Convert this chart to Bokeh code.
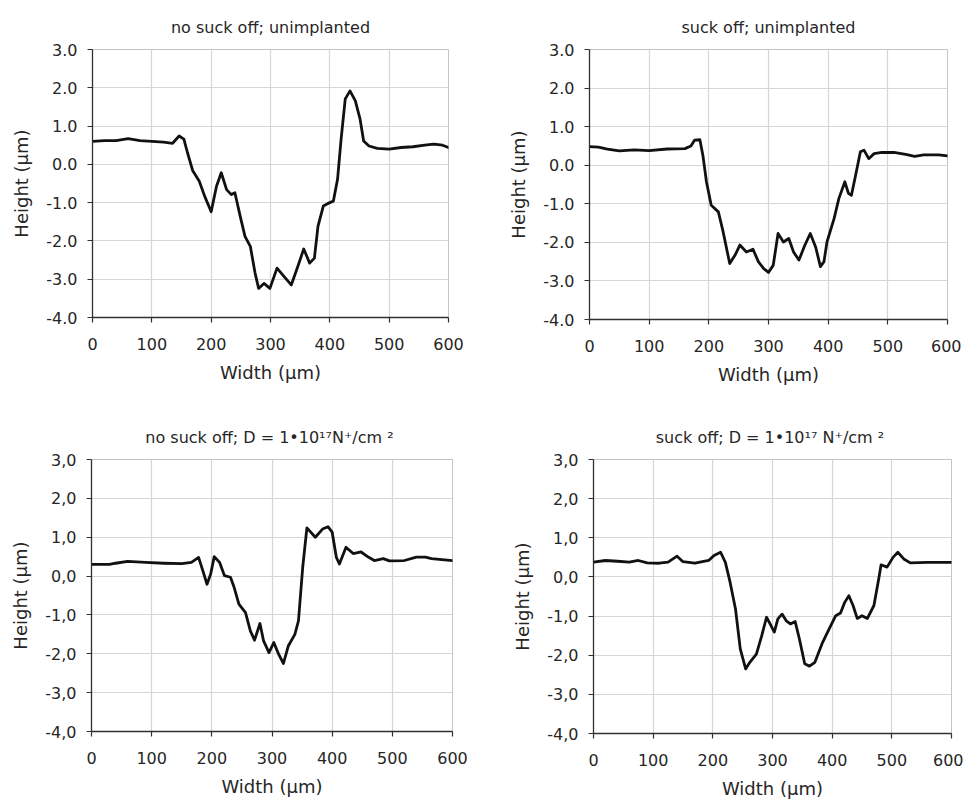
from bokeh.plotting import figure
from bokeh.layouts import row, column
from bokeh.models import FixedTicker, Range1d
from bokeh.embed import file_html
from bokeh.resources import INLINE

# ---- data ----
titles = [
    "no suck off; unimplanted",
    "suck off; unimplanted",
    "no suck off;  D = 1\u202210\u00b9\u2077N\u207a/cm \u00b2",
    "suck off;  D = 1\u202210\u00b9\u2077 N\u207a/cm \u00b2",
]

a_x = [0, 20, 40, 60, 80, 100, 120, 135, 146, 154, 160, 169, 180, 189, 200, 209, 217, 226, 234, 240,
       249, 257, 266, 274, 280, 289, 299, 311, 323, 335, 346, 356, 366, 374, 380, 389, 397, 406, 413,
       419, 426, 434, 443, 451, 457, 466, 480, 500, 520, 540, 560, 575, 590, 600]
a_y = [0.60, 0.62, 0.62, 0.67, 0.62, 0.60, 0.58, 0.55, 0.74, 0.66, 0.31, -0.17, -0.44, -0.83, -1.24,
       -0.57, -0.22, -0.66, -0.79, -0.74, -1.36, -1.88, -2.14, -2.84, -3.24, -3.11, -3.24, -2.71,
       -2.93, -3.15, -2.67, -2.21, -2.58, -2.45, -1.62, -1.09, -1.02, -0.96, -0.39, 0.66, 1.71, 1.92,
       1.66, 1.18, 0.61, 0.48, 0.42, 0.40, 0.44, 0.46, 0.50, 0.53, 0.50, 0.44]

b_x = [0, 15, 30, 50, 75, 100, 130, 160, 170, 176, 185, 190, 196, 204, 216, 224, 235, 244, 252, 263,
       274, 283, 292, 300, 308, 316, 325, 334, 342, 351, 361, 370, 379, 387, 393, 398, 410, 418, 428,
       434, 439, 446, 454, 460, 468, 477, 490, 510, 530, 545, 560, 585, 600]
b_y = [0.48, 0.47, 0.42, 0.37, 0.40, 0.38, 0.42, 0.43, 0.50, 0.65, 0.66, 0.26, -0.43, -1.04, -1.21,
       -1.73, -2.55, -2.33, -2.07, -2.25, -2.18, -2.50, -2.68, -2.78, -2.59, -1.77, -1.99, -1.90,
       -2.25, -2.46, -2.07, -1.77, -2.12, -2.63, -2.50, -1.99, -1.38, -0.86, -0.43, -0.73, -0.78,
       -0.26, 0.35, 0.39, 0.17, 0.30, 0.33, 0.33, 0.28, 0.23, 0.27, 0.27, 0.24]

c_x = [0, 30, 40, 60, 90, 120, 150, 166, 178, 185, 192, 198, 204, 213, 221, 231, 237, 245, 256, 264,
       271, 280, 286, 295, 303, 311, 319, 327, 338, 344, 351, 358, 372, 384, 393, 400, 407, 412, 423,
       435, 448, 460, 470, 485, 495, 520, 540, 555, 565, 600]
c_y = [0.30, 0.30, 0.33, 0.38, 0.35, 0.33, 0.32, 0.35, 0.48, 0.14, -0.21, 0.05, 0.50, 0.35, 0.01,
       -0.03, -0.29, -0.72, -0.94, -1.41, -1.65, -1.22, -1.67, -1.97, -1.71, -2.01, -2.25, -1.80,
       -1.50, -1.15, 0.22, 1.24, 1.00, 1.21, 1.27, 1.13, 0.48, 0.31, 0.74, 0.58, 0.62, 0.49, 0.40,
       0.45, 0.39, 0.40, 0.49, 0.49, 0.45, 0.40]

d_x = [0, 20, 40, 60, 75, 90, 110, 125, 140, 150, 170, 193, 202, 213, 221, 229, 238, 246, 255, 262,
       273, 282, 290, 296, 303, 309, 316, 323, 330, 338, 345, 354, 362, 371, 384, 395, 406, 414, 421,
       428, 435, 442, 450, 459, 470, 478, 482, 492, 502, 510, 520, 531, 560, 600]
d_y = [0.38, 0.42, 0.40, 0.38, 0.42, 0.36, 0.35, 0.38, 0.53, 0.39, 0.35, 0.42, 0.55, 0.63, 0.37,
       -0.14, -0.82, -1.84, -2.35, -2.18, -1.97, -1.50, -1.03, -1.20, -1.41, -1.07, -0.95, -1.12,
       -1.20, -1.14, -1.58, -2.22, -2.28, -2.18, -1.67, -1.33, -0.99, -0.92, -0.65, -0.48, -0.73,
       -1.06, -0.99, -1.06, -0.73, -0.05, 0.31, 0.25, 0.50, 0.63, 0.46, 0.36, 0.37, 0.37]

x_ticks = [0, 100, 200, 300, 400, 500, 600]
y_ticks = [-4, -3, -2, -1, 0, 1, 2, 3]
y_labels_dot = ["-4.0", "-3.0", "-2.0", "-1.0", "0.0", "1.0", "2.0", "3.0"]
y_labels_comma = ["-4,0", "-3,0", "-2,0", "-1,0", "0,0", "1,0", "2,0", "3,0"]
x_label = "Width (\u00b5m)"
y_label = "Height (\u00b5m)"

FONT = "DejaVu Sans"
TXT = "#262626"


def make(title, xs, ys, ylabels, fw, fh, bl, br, bt, bb):
    p = figure(
        frame_width=fw, frame_height=fh,
        min_border_left=bl, min_border_right=br, min_border_top=bt, min_border_bottom=bb,
        x_range=Range1d(0, 600), y_range=Range1d(-4, 3),
        output_backend="svg", toolbar_location=None, title=title,
    )
    p.title.align = "center"
    p.title.text_font = FONT
    p.title.text_font_size = "16px"
    p.title.text_font_style = "normal"
    p.title.text_color = TXT
    p.title.standoff = 25

    p.outline_line_color = "#c4c4c4"
    p.outline_line_width = 1
    p.background_fill_color = "white"
    p.border_fill_color = "white"

    p.xaxis.ticker = FixedTicker(ticks=x_ticks)
    p.yaxis.ticker = FixedTicker(ticks=y_ticks)
    p.yaxis.major_label_overrides = {t: lab for t, lab in zip(y_ticks, ylabels)}

    for ax in (p.xaxis[0], p.yaxis[0]):
        ax.axis_line_color = "#303030"
        ax.axis_line_width = 1.3
        ax.major_tick_line_color = "#303030"
        ax.major_tick_line_width = 1.2
        ax.major_tick_out = 5
        ax.major_tick_in = 0
        ax.minor_tick_line_color = None
        ax.major_label_text_font = FONT
        ax.major_label_text_font_size = "16px"
        ax.major_label_text_color = TXT
        ax.axis_label_text_font = FONT
        ax.axis_label_text_font_size = "18px"
        ax.axis_label_text_font_style = "normal"
        ax.axis_label_text_color = TXT

    p.xaxis.axis_label = x_label
    p.yaxis.axis_label = y_label
    p.xaxis.major_label_standoff = 15
    p.xaxis.axis_label_standoff = 9
    p.yaxis.major_label_standoff = 10
    p.yaxis.axis_label_standoff = 11

    p.xgrid.grid_line_color = "#d6d6d6"
    p.ygrid.grid_line_color = "#d6d6d6"
    p.xgrid.grid_line_width = 1.2
    p.ygrid.grid_line_width = 1.2

    p.line(xs, ys, line_color="#111111", line_width=2.8, line_join="round", line_cap="round")
    return p


p1 = make(titles[0], a_x, a_y, y_labels_dot, 356, 268, 92, 32, 49, 78)
p2 = make(titles[1], b_x, b_y, y_labels_dot, 358, 270, 109, 14, 48, 77)
p3 = make(titles[2], c_x, c_y, y_labels_comma, 361, 272, 91, 28, 64, 52)
p4 = make(titles[3], d_x, d_y, y_labels_comma, 358, 274, 113, 12, 62, 52)

layout = column(row(p1, p2, spacing=0), row(p3, p4, spacing=0), spacing=0)

open("out.html", "w").write(file_html(layout, INLINE))
